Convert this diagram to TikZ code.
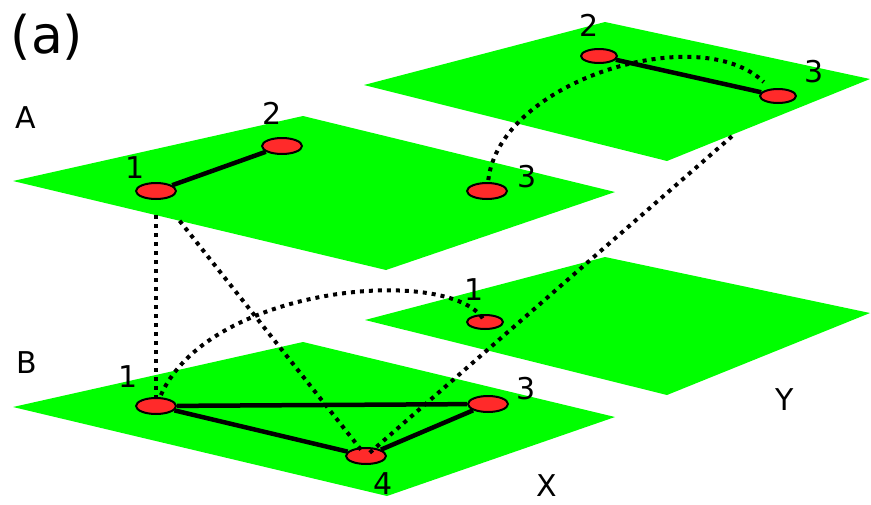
\documentclass[tikz,border=0pt]{standalone}
\usepackage{fontspec}
\setmainfont{DejaVu Sans}
\usetikzlibrary{shapes.geometric}
\definecolor{planegreen}{RGB}{0,255,0}
\definecolor{nodered}{RGB}{255,42,42}

\begin{document}
\begin{tikzpicture}[x=1pt, y=-1pt, line join=round,
  plane/.style={fill=planegreen},
  vertex/.style={ellipse, draw=black, line width=2pt, fill=nodered,
    minimum width=40pt, minimum height=16pt, inner sep=0pt},
  farvertex/.style={vertex, minimum width=36pt, minimum height=14pt},
  link/.style={line width=4.5pt},
  interlink/.style={line width=4pt, dash pattern=on 4pt off 5pt},
  lbl/.style={font=\fontsize{30}{30}\selectfont, inner sep=0pt}]
\useasboundingbox (0,0) rectangle (871,504);

% planes
\fill[plane] (13,181) -- (303,116) -- (615,192) -- (386,270) -- cycle;
\fill[plane] (364,85) -- (605,22) -- (870,79) -- (667,161) -- cycle;
\fill[plane] (13,407) -- (303,342) -- (615,417) -- (387,496) -- cycle;
\fill[plane] (365,320) -- (605,257) -- (870,313) -- (667,395) -- cycle;

% vertices
\node[vertex] (xa1) at (156,191) {};
\node[vertex] (xa2) at (282,146) {};
\node[vertex] (xa3) at (487,191) {};
\node[farvertex] (ya2) at (599,56) {};
\node[farvertex] (ya3) at (778,96) {};
\node[vertex] (xb1) at (156,406) {};
\node[vertex] (xb3) at (488,404) {};
\node[vertex] (xb4) at (366,456) {};
\node[farvertex] (yb1) at (485,322) {};

% edges inside a layer
\draw[link] (xa1) -- (xa2);
\draw[link] (ya2) -- (ya3);
\draw[link] (xb1) -- (xb3);
\draw[link] (xb1) -- (xb4);
\draw[link] (xb4) -- (xb3);

% dotted couplings
\draw[interlink, shorten <=24pt, shorten >=4pt] (xa1.center) -- (xb1.center);
\draw[interlink, shorten <=38pt, shorten >=8pt] (xa1.center) -- (xb4.center);
\draw[interlink, shorten <=5pt, shorten >=57pt] (xb4.center) -- (ya3.center);
\draw[interlink, shorten <=12pt, shorten >=3pt]
  (xb1.center) .. controls (210,285) and (450,265) .. (yb1.center);
\draw[interlink, shorten <=11pt, shorten >=20pt]
  (xa3.center) .. controls (500,80) and (700,20) .. (ya3.center);

% labels
\node[lbl, font=\fontsize{52}{52}\selectfont] (panel) at (47,37) {(a)};
\node[lbl] (layerA) at (26,118) {A};
\node[lbl] (layerB) at (27,363) {B};
\node[lbl] (xa1lbl) at (135,168) {1};
\node[lbl] (xa2lbl) at (272,113) {2};
\node[lbl] (xa3lbl) at (527,177) {3};
\node[lbl] (ya2lbl) at (589,25) {2};
\node[lbl] (ya3lbl) at (814,72) {3};
\node[lbl] (yb1lbl) at (474,290) {1};
\node[lbl] (xb1lbl) at (128,377) {1};
\node[lbl] (xb3lbl) at (526,389) {3};
\node[lbl] (xb4lbl) at (383,484) {4};
\node[lbl] (colX) at (547,486) {X};
\node[lbl] (colY) at (785,400) {Y};
\end{tikzpicture}
\end{document}
